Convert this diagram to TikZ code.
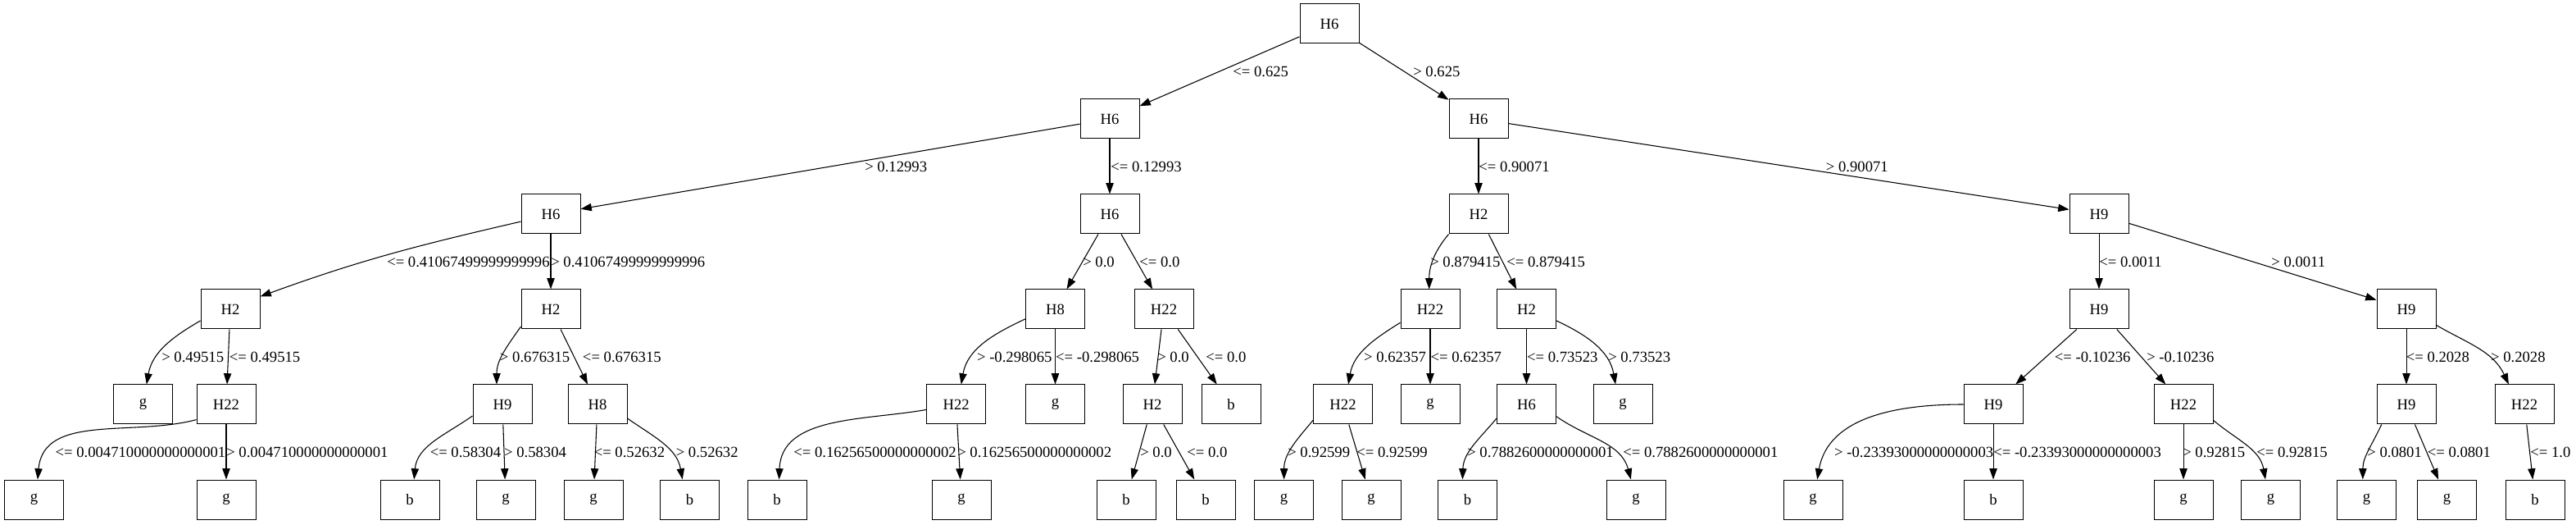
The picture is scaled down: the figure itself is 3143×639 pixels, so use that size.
\documentclass[tikz,border=0pt]{standalone}
\usepackage{fontspec}
\setmainfont{Liberation Serif}
\usetikzlibrary{arrows.meta}
\begin{document}
\begin{tikzpicture}[x=0.75pt,y=0.75pt,
  box/.style={draw,rectangle,minimum width=54pt,minimum height=36pt,inner sep=0pt,line width=0.75pt,font=\fontsize{14}{16}\selectfont},
  edge/.style={-{Triangle[length=10pt,width=7pt]},line width=0.8pt},
  lab/.style={anchor=west,inner sep=0pt,font=\fontsize{14}{16}\selectfont}]
\useasboundingbox (0,0) rectangle (3143,639);
% level 0
\node[box] (r) at (1622,610) {H6};
% level 1
\node[box] (a) at (1354,494) {H6};
\node[box] (b) at (1804,494) {H6};
% level 2
\node[box] (aa) at (672,378) {H6};
\node[box] (ab) at (1354,378) {H6};
\node[box] (ba) at (1804,378) {H2};
\node[box] (bb) at (2561,378) {H9};
% level 3
\node[box] (aaa) at (281,262) {H2};
\node[box] (aab) at (672,262) {H2};
\node[box] (aba) at (1287.5,262) {H8};
\node[box] (abb) at (1420,262) {H22};
\node[box] (baa) at (1745,262) {H22};
\node[box] (bab) at (1862.5,262) {H2};
\node[box] (bba) at (2561,262) {H9};
\node[box] (bbb) at (2936,262) {H9};
% level 4
\node[box] (aaaa) at (174.5,146) {g};
\node[box] (aaab) at (276,146) {H22};
\node[box] (aaba) at (613,146) {H9};
\node[box] (aabb) at (729,146) {H8};
\node[box] (abaa) at (1166.6,146) {H22};
\node[box] (abab) at (1287.5,146) {g};
\node[box] (abba) at (1406,146) {H2};
\node[box] (abbb) at (1502,146) {b};
\node[box] (baaa) at (1638.5,146) {H22};
\node[box] (baab) at (1745,146) {g};
\node[box] (baba) at (1862.5,146) {H6};
\node[box] (babb) at (1980,146) {g};
\node[box] (bbaa) at (2432,146) {H9};
\node[box] (bbab) at (2664,146) {H22};
\node[box] (bbba) at (2936,146) {H9};
\node[box] (bbbb) at (3080,146) {H22};
% level 5
\node[box] (aaaba) at (41.6,30) {g};
\node[box] (aaabb) at (276,30) {g};
\node[box] (aabaa) at (500,30) {b};
\node[box] (aabab) at (617,30) {g};
\node[box] (aabba) at (724,30) {g};
\node[box] (aabbb) at (841.6,30) {b};
\node[box] (abaaa) at (948,30) {b};
\node[box] (abaab) at (1173,30) {g};
\node[box] (abbaa) at (1374,30) {b};
\node[box] (abbab) at (1471,30) {b};
\node[box] (baaaa) at (1566.6,30) {g};
\node[box] (baaab) at (1673,30) {g};
\node[box] (babaa) at (1790.5,30) {b};
\node[box] (babab) at (1996,30) {g};
\node[box] (bbaaa) at (2212,30) {g};
\node[box] (bbaab) at (2432,30) {b};
\node[box] (bbaba) at (2664,30) {g};
\node[box] (bbabb) at (2770.6,30) {g};
\node[box] (bbbaa) at (2887.6,30) {g};
\node[box] (bbbab) at (2985.5,30) {g};
\node[box] (bbbba) at (3093,30) {b};
% edges level 0-1
\draw[edge] (r) -- (a);
\draw[edge] (r) -- (b);
% level 1-2
\draw[edge] (a) -- (aa);
\draw[edge] (a) -- (ab);
\draw[edge] (b) -- (ba);
\draw[edge] (b) -- (bb);
% level 2-3
\draw[edge] (aa.194) to[out=193,in=20] (aaa.23);
\draw[edge] (aa) -- (aab);
\draw[edge] (ab) -- (aba);
\draw[edge] (ab) -- (abb);
\draw[edge] (ba.south west) to[out=230,in=90] (baa.93);
\draw[edge] (ba) -- (bab);
\draw[edge] (bb) -- (bba);
\draw[edge] (bb) -- (bbb);
% level 3-4
\draw[edge] (aaa.201) to[out=210,in=80] (aaaa.80);
\draw[edge] (aaa) -- (aaab);
\draw[edge] (aab.210) to[out=235,in=90] (aaba.106);
\draw[edge] (aab) -- (aabb);
\draw[edge] (aba.198) to[out=205,in=80] (abaa.76);
\draw[edge] (aba) -- (abab);
\draw[edge] (abb) -- (abba);
\draw[edge] (abb) -- (abbb);
\draw[edge] (baa.204) to[out=212,in=80] (baaa.75);
\draw[edge] (baa) -- (baab);
\draw[edge] (bab) -- (baba);
\draw[edge] (bab.-21) to[out=-25,in=100] (babb.110);
\draw[edge] (bba) -- (bbaa);
\draw[edge] (bba) -- (bbab);
\draw[edge] (bbb) -- (bbba);
\draw[edge] (bbb.-28) to[out=-30,in=115] (bbbb.128);
% level 4-5
\draw[edge] (aaab.207) to[out=195,in=85] (aaaba.80);
\draw[edge] (aaab) -- (aaabb);
\draw[edge] (aaba.201) to[out=215,in=85] (aabaa.78);
\draw[edge] (aaba) -- (aabab);
\draw[edge] (aabb) -- (aabba);
\draw[edge] (aabb.-25) to[out=-35,in=100] (aabbb.110);
\draw[edge] (abaa.190) to[out=190,in=88] (abaaa.84);
\draw[edge] (abaa) -- (abaab);
\draw[edge] (abba) -- (abbaa);
\draw[edge] (abba) -- (abbab);
\draw[edge] (baaa.208) to[out=230,in=90] (baaaa.north);
\draw[edge] (baaa) -- (baaab);
\draw[edge] (baba.205) to[out=230,in=88] (babaa.104);
\draw[edge] (baba.-22) to[out=-35,in=105] (babab.104);
\draw[edge] (bbaa.west) to[out=180,in=80] (bbaaa.78);
\draw[edge] (bbaa) -- (bbaab);
\draw[edge] (bbab) -- (bbaba);
\draw[edge] (bbab.-28) to[out=-40,in=100] (bbabb.105);
\draw[edge] (bbba.219) to[out=245,in=90] (bbbaa.101);
\draw[edge] (bbba) -- (bbbab);
\draw[edge] (bbbb) -- (bbbba);
% labels level 0-1
\node[lab] (t1) at (1504,552) {<= 0.625};
\node[lab] (t2) at (1724,552) {> 0.625};
% labels level 1-2
\node[lab] (t3) at (1055,436) {> 0.12993};
\node[lab] (t4) at (1355,436) {<= 0.12993};
\node[lab] (t5) at (1804,436) {<= 0.90071};
\node[lab] (t6) at (2227.6,436) {> 0.90071};
% labels level 2-3
\node[lab] (t7) at (472,320) {<= 0.41067499999999996};
\node[lab] (t8) at (672,320) {> 0.41067499999999996};
\node[lab] (t9) at (1321,320) {> 0.0};
\node[lab] (t10) at (1390,320) {<= 0.0};
\node[lab] (t11) at (1745,320) {> 0.879415};
\node[lab] (t12) at (1838,320) {<= 0.879415};
\node[lab] (t13) at (2561,320) {<= 0.0011};
\node[lab] (t14) at (2771,320) {> 0.0011};
% labels level 3-4
\node[lab] (t15) at (197,204) {> 0.49515};
\node[lab] (t16) at (279.6,204) {<= 0.49515};
\node[lab] (t17) at (609.7,204) {> 0.676315};
\node[lab] (t18) at (710.7,204) {<= 0.676315};
\node[lab] (t19) at (1191.8,204) {> -0.298065};
\node[lab] (t20) at (1287.8,204) {<= -0.298065};
\node[lab] (t21) at (1412,204) {> 0.0};
\node[lab] (t22) at (1471,204) {<= 0.0};
\node[lab] (t23) at (1663.8,204) {> 0.62357};
\node[lab] (t24) at (1745.4,204) {<= 0.62357};
\node[lab] (t25) at (1862.8,204) {<= 0.73523};
\node[lab] (t26) at (1962,204) {> 0.73523};
\node[lab] (t27) at (2506.6,204) {<= -0.10236};
\node[lab] (t28) at (2619,204) {> -0.10236};
\node[lab] (t29) at (2935.5,204) {<= 0.2028};
\node[lab] (t30) at (3038.8,204) {> 0.2028};
% labels level 4-5
\node[lab] (t31) at (67.3,88) {<= 0.004710000000000001};
\node[lab] (t32) at (276,88) {> 0.004710000000000001};
\node[lab] (t33) at (524.5,88) {<= 0.58304};
\node[lab] (t34) at (614.8,88) {> 0.58304};
\node[lab] (t35) at (724.5,88) {<= 0.52632};
\node[lab] (t36) at (824.5,88) {> 0.52632};
\node[lab] (t37) at (968,88) {<= 0.16256500000000002};
\node[lab] (t38) at (1168,88) {> 0.16256500000000002};
\node[lab] (t39) at (1391,88) {> 0.0};
\node[lab] (t40) at (1448,88) {<= 0.0};
\node[lab] (t41) at (1571,88) {> 0.92599};
\node[lab] (t42) at (1655,88) {<= 0.92599};
\node[lab] (t43) at (1790,88) {> 0.7882600000000001};
\node[lab] (t44) at (1980,88) {<= 0.7882600000000001};
\node[lab] (t45) at (2237.8,88) {> -0.23393000000000003};
\node[lab] (t46) at (2432,88) {<= -0.23393000000000003};
\node[lab] (t47) at (2663,88) {> 0.92815};
\node[lab] (t48) at (2753,88) {<= 0.92815};
\node[lab] (t49) at (2888,88) {> 0.0801};
\node[lab] (t50) at (2961.5,88) {<= 0.0801};
\node[lab] (t51) at (3087,88) {<= 1.0};
\end{tikzpicture}
\end{document}
